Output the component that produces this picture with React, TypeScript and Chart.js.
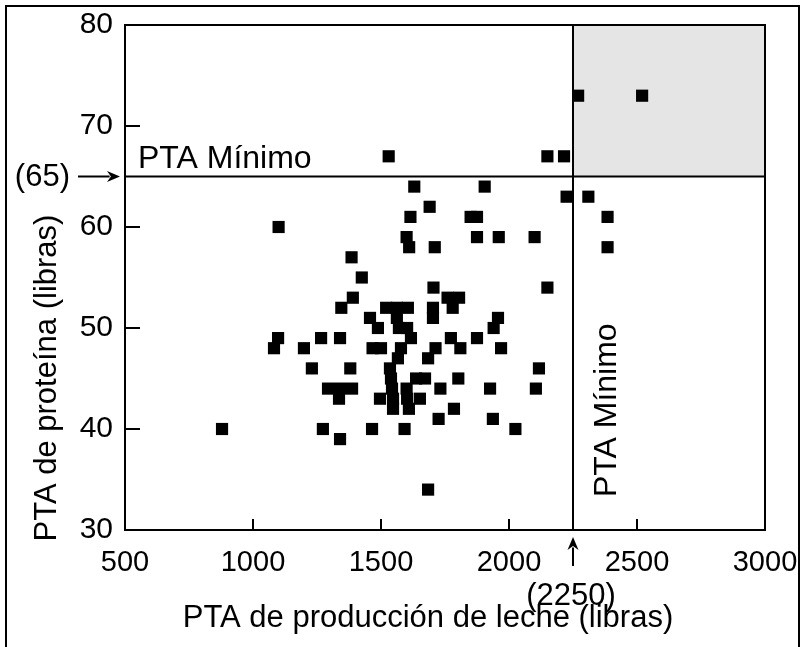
import { useEffect, useRef } from 'react';
import { Chart, registerables } from 'chart.js';

Chart.register(...registerables);

// PTA de producción de leche (libras) — one entry per cow
const milkPTA: number[] = [
  2270, 2520,
  1530, 2150, 2215,
  1630, 1905,
  2225, 2310,
  1690,
  1615, 1850, 1875, 2385,
  1100,
  1600, 1875, 1960, 2100,
  1610, 1710, 2385,
  1385,
  1425,
  1705, 2150,
  1390, 1760, 1805,
  1345, 1520, 1562, 1605, 1703, 1780,
  1457, 1562, 1703, 1957,
  1488, 1570, 1602, 1940,
  1098, 1266, 1340, 1617, 1773, 1875,
  1082, 1199, 1467, 1500, 1578, 1713, 1810, 1969,
  1566, 1684,
  1230, 1380, 1535, 2117,
  1539, 1637, 1672, 1802,
  1293, 1340, 1387, 1543, 1600, 1732, 1926, 2105,
  1336, 1496, 1547, 1602, 1652,
  1547, 1609, 1785,
  1725, 1937,
  879, 1273, 1465, 1592, 2025,
  1340,
  1684,
];

// PTA de proteína (libras) — same order as milkPTA
const proteinPTA: number[] = [
  73, 73,
  67, 67, 67,
  64, 64,
  63, 63,
  62,
  61, 61, 61, 61,
  60,
  59, 59, 59, 59,
  58, 58, 58,
  57,
  55,
  54, 54,
  53, 53, 53,
  52, 52, 52, 52, 52, 52,
  51, 51, 51, 51,
  50, 50, 50, 50,
  49, 49, 49, 49, 49, 49,
  48, 48, 48, 48, 48, 48, 48, 48,
  47, 47,
  46, 46, 46, 46,
  45, 45, 45, 45,
  44, 44, 44, 44, 44, 44, 44, 44,
  43, 43, 43, 43, 43,
  42, 42, 42,
  41, 41,
  40, 40, 40, 40, 40,
  39,
  34,
];

const xTicks: number[] = [500, 1000, 1500, 2000, 2500, 3000];
const yTicks: number[] = [30, 40, 50, 60, 70, 80];
const minMilk = 2250;
const minProtein = 65;

const xTitle = 'PTA de producción de leche (libras)';
const yTitle = 'PTA de proteína (libras)';
const minLabel = 'PTA Mínimo';

const FONT = '"Liberation Sans", Arial, Helvetica, sans-serif';

function arrow(ctx: CanvasRenderingContext2D, x1: number, y1: number, x2: number, y2: number) {
  const ang = Math.atan2(y2 - y1, x2 - x1);
  const hl = 13;
  const hw = 5.5;
  ctx.beginPath();
  ctx.moveTo(x1, y1);
  ctx.lineTo(x2 - Math.cos(ang) * hl * 0.8, y2 - Math.sin(ang) * hl * 0.8);
  ctx.lineWidth = 2;
  ctx.stroke();
  ctx.beginPath();
  ctx.moveTo(x2, y2);
  ctx.lineTo(x2 - Math.cos(ang) * hl + Math.sin(ang) * hw, y2 - Math.sin(ang) * hl - Math.cos(ang) * hw);
  ctx.lineTo(x2 - Math.cos(ang) * hl * 0.7, y2 - Math.sin(ang) * hl * 0.7);
  ctx.lineTo(x2 - Math.cos(ang) * hl - Math.sin(ang) * hw, y2 - Math.sin(ang) * hl + Math.cos(ang) * hw);
  ctx.closePath();
  ctx.fill();
}

const decorations = {
  id: 'decorations',
  beforeDatasetsDraw(chart: any) {
    const { ctx, chartArea: a, scales } = chart;
    const x = scales.x;
    const y = scales.y;
    const xm = x.getPixelForValue(minMilk);
    const ym = y.getPixelForValue(minProtein);
    ctx.save();
    ctx.fillStyle = '#e5e5e5';
    ctx.fillRect(xm, a.top, a.right - xm, ym - a.top);
    ctx.strokeStyle = '#000';
    ctx.lineWidth = 2;
    ctx.beginPath();
    ctx.moveTo(a.left, ym);
    ctx.lineTo(a.right, ym);
    ctx.moveTo(xm, a.top);
    ctx.lineTo(xm, a.bottom);
    ctx.stroke();
    // inward tick marks
    ctx.beginPath();
    yTicks.slice(1, -1).forEach((v) => {
      const py = y.getPixelForValue(v);
      ctx.moveTo(a.left, py);
      ctx.lineTo(a.left + 15, py);
    });
    xTicks.slice(1, -1).forEach((v) => {
      const px = x.getPixelForValue(v);
      ctx.moveTo(px, a.bottom);
      ctx.lineTo(px, a.bottom - 11);
    });
    ctx.stroke();
    ctx.strokeRect(a.left, a.top, a.right - a.left, a.bottom - a.top);
    ctx.restore();
  },
  afterDraw(chart: any) {
    const { ctx, scales } = chart;
    const x = scales.x;
    const y = scales.y;
    const xm = x.getPixelForValue(minMilk);
    const ym = y.getPixelForValue(minProtein);
    ctx.save();
    ctx.fillStyle = '#000';
    ctx.strokeStyle = '#000';

    // outer frame (bottom edge falls outside the picture)
    ctx.lineWidth = 2;
    ctx.strokeRect(6, 6, 793, 700);

    // "PTA Mínimo" labels
    ctx.font = `32px ${FONT}`;
    ctx.textAlign = 'left';
    ctx.textBaseline = 'alphabetic';
    ctx.fillText(minLabel, 138, ym - 9);
    ctx.save();
    ctx.translate(xm + 43, 497);
    ctx.rotate(-Math.PI / 2);
    ctx.fillText(minLabel, 0, 0);
    ctx.restore();

    // threshold value labels with arrows
    ctx.font = `31px ${FONT}`;
    ctx.textAlign = 'right';
    ctx.textBaseline = 'middle';
    ctx.fillText(`(${minProtein})`, 70, ym + 1);
    arrow(ctx, 78, ym, 120, ym);

    ctx.textAlign = 'center';
    ctx.fillText(`(${minMilk})`, xm - 2, 596);
    arrow(ctx, xm, 566, xm, 537);

    // axis titles
    ctx.font = `31px ${FONT}`;
    ctx.textAlign = 'center';
    ctx.textBaseline = 'alphabetic';
    ctx.fillText(xTitle, 428, 627);
    ctx.save();
    ctx.translate(56, 378);
    ctx.rotate(-Math.PI / 2);
    ctx.fillText(yTitle, 0, 0);
    ctx.restore();

    ctx.restore();
  },
};

function zeroPadding(s: any) {
  s.paddingTop = 0;
  s.paddingBottom = 0;
  s.paddingLeft = 0;
  s.paddingRight = 0;
}

export default function App() {
  const ref = useRef<HTMLCanvasElement | null>(null);

  useEffect(() => {
    if (!ref.current) return;
    const points = milkPTA.map((m, i) => ({ x: m, y: proteinPTA[i] }));
    const chart = new Chart(ref.current, {
      type: 'scatter',
      data: {
        datasets: [
          {
            label: 'Vacas',
            data: points,
            pointStyle: 'rect',
            pointRadius: 8.6,
            pointHoverRadius: 8.6,
            backgroundColor: '#000',
            borderColor: '#000',
            borderWidth: 0,
          },
        ],
      },
      options: {
        responsive: false,
        animation: false,
        events: [],
        layout: { padding: { left: 0, right: 39, top: 25, bottom: 0 } },
        plugins: {
          legend: { display: false },
          tooltip: { enabled: false },
        },
        scales: {
          x: {
            type: 'linear',
            min: xTicks[0],
            max: xTicks[xTicks.length - 1],
            afterBuildTicks: (s: any) => {
              s.ticks = xTicks.map((v) => ({ value: v }));
            },
            afterFit: (s: any) => {
              s.height = 117;
              zeroPadding(s);
            },
            ticks: {
              autoSkip: false,
              maxRotation: 0,
              color: '#000',
              padding: 8,
              font: { family: FONT, size: 29 },
              callback: (v: any) => String(v),
            },
            grid: { display: false },
            border: { display: false },
          },
          y: {
            type: 'linear',
            min: yTicks[0],
            max: yTicks[yTicks.length - 1],
            afterBuildTicks: (s: any) => {
              s.ticks = yTicks.map((v) => ({ value: v }));
            },
            afterFit: (s: any) => {
              s.width = 125;
              zeroPadding(s);
            },
            ticks: {
              autoSkip: false,
              color: '#000',
              padding: 4,
              font: { family: FONT, size: 30 },
              callback: (v: any) => String(v),
            },
            grid: { display: false },
            border: { display: false },
          },
        },
      },
      plugins: [decorations],
    });
    return () => chart.destroy();
  }, []);

  return (
    <div style={{ position: 'absolute', left: 0, top: 0, width: 804, height: 647, overflow: 'hidden', background: '#fff' }}>
      <canvas ref={ref} width={804} height={647} style={{ width: 804, height: 647, display: 'block' }} />
    </div>
  );
}
